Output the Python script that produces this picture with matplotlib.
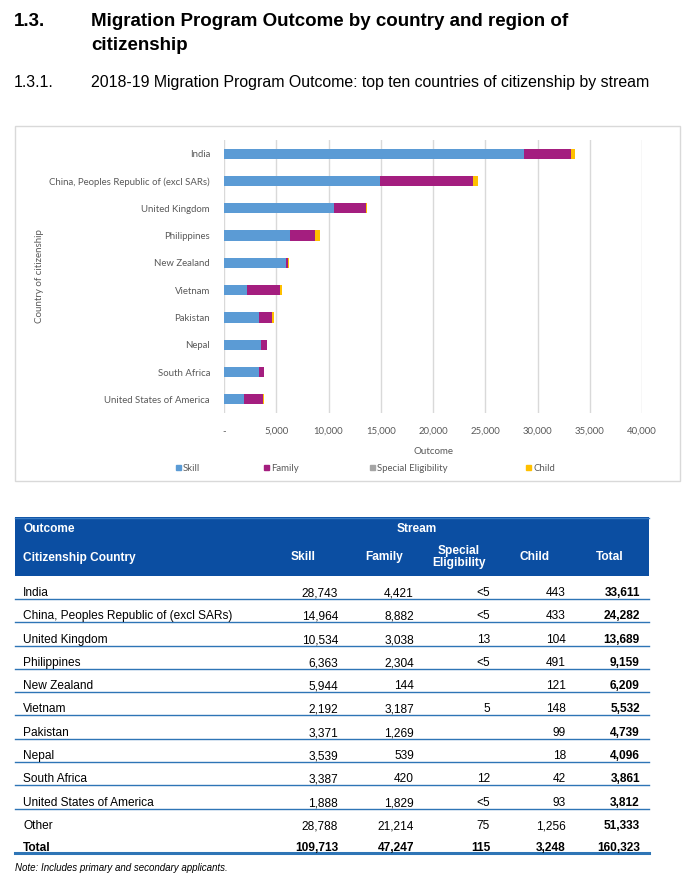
import matplotlib.pyplot as plt
from matplotlib.patches import Rectangle
from matplotlib.ticker import FuncFormatter

countries = ['India', 'China, Peoples Republic of (excl SARs)', 'United Kingdom',
             'Philippines', 'New Zealand', 'Vietnam', 'Pakistan', 'Nepal',
             'South Africa', 'United States of America']
skill = [28743, 14964, 10534, 6363, 5944, 2192, 3371, 3539, 3387, 1888]
family = [4421, 8882, 3038, 2304, 144, 3187, 1269, 539, 420, 1829]
# special eligibility as read from the totals (<5 in the table)
special = [4, 3, 13, 1, 0, 5, 0, 0, 12, 2]
special_shown = ['<5', '<5', '13', '<5', '', '5', '', '', '12', '<5']
child = [443, 433, 104, 491, 121, 148, 99, 18, 42, 93]
total = [33611, 24282, 13689, 9159, 6209, 5532, 4739, 4096, 3861, 3812]

other = ['28,788', '21,214', '75', '1,256', '51,333']
grand = ['109,713', '47,247', '115', '3,248', '160,323']

streams = ['Skill', 'Family', 'Special Eligibility', 'Child']
colors = ['#5B9BD5', '#A41E7F', '#A5A5A5', '#FFC000']
xticks = [0, 5000, 10000, 15000, 20000, 25000, 30000, 35000, 40000]

W, H = 693, 888
fig = plt.figure(figsize=(W / 100, H / 100), dpi=100)

# overlay in pixel coordinates for headings, frame and table
ov = fig.add_axes([0, 0, 1, 1])
ov.set_xlim(0, W)
ov.set_ylim(H, 0)
ov.axis('off')

hfont = 'Liberation Sans'
ov.text(14, 26, '1.3.', fontsize=13.5, fontweight='bold', family=hfont, va='baseline')
ov.text(91, 26, 'Migration Program Outcome by country and region of',
        fontsize=13.5, fontweight='bold', family=hfont, va='baseline')
ov.text(91, 50, 'citizenship', fontsize=13.5, fontweight='bold', family=hfont, va='baseline')
ov.text(14, 87, '1.3.1.', fontsize=11.4, family=hfont, va='baseline')
ov.text(91, 87, '2018-19 Migration Program Outcome: top ten countries of citizenship by stream',
        fontsize=11.4, family=hfont, va='baseline')

ov.add_patch(Rectangle((15, 126), 665, 355, fill=False, edgecolor='#D9D9D9', lw=1))

# chart
cfont = 'Lato'
ax = fig.add_axes([224 / W, 1 - 413 / H, (642 - 224) / W, 273 / H])
ypos = list(range(len(countries)))
left = [0] * len(countries)
for vals, name, c in zip([skill, family, special, child], streams, colors):
    ax.barh(ypos, vals, left=left, height=0.37, color=c, label=name, zorder=3)
    left = [a + b for a, b in zip(left, vals)]
ax.set_ylim(len(countries) - 0.5, -0.5)
ax.set_xlim(0, 40000)
ax.set_xticks(xticks)
ax.xaxis.set_major_formatter(FuncFormatter(lambda v, p: '-' if v == 0 else f'{int(v):,}'))
ax.set_yticks(ypos)
ax.set_yticklabels(countries)
ax.grid(axis='x', color='#D9D9D9', lw=1, zorder=0)
for s in ax.spines.values():
    s.set_visible(False)
ax.tick_params(length=0, labelsize=6.9, labelcolor='#595959', pad=10)
for lab in ax.get_xticklabels() + ax.get_yticklabels():
    lab.set_family(cfont)
ax.set_xlabel('Outcome', fontsize=7, color='#595959', family=cfont, labelpad=8)
ov.text(40, 276, 'Country of citizenship', rotation=90, fontsize=7, color='#595959',
        family=cfont, ha='center', va='center')

legx = [176, 264, 370, 526]
for x, name, c in zip(legx, streams, colors):
    ov.add_patch(Rectangle((x, 465), 5, 5, color=c))
    ov.text(x + 7, 468, name, fontsize=6.9, color='#595959', family=cfont, va='center')

# table
blue = '#0B4EA2'
line = '#2E75B6'
ov.add_patch(Rectangle((15, 517), 634, 59, color=blue, lw=0))
ov.plot([15, 649], [517.5, 517.5], color='#3A7CC4', lw=1)
tfs = 8.6
bo = 4  # baseline offset from row centre
ov.text(23, 528 + bo, 'Outcome', color='white', fontweight='bold', fontsize=tfs,
        family=hfont, va='baseline')
ov.text(417, 528 + bo, 'Stream', color='white', fontweight='bold', fontsize=tfs,
        family=hfont, va='baseline', ha='center')
ov.text(23, 557 + bo, 'Citizenship Country', color='white', fontweight='bold', fontsize=tfs,
        family=hfont, va='baseline')
heads = ['Skill', 'Family', 'Special\nEligibility', 'Child', 'Total']
hcx = [303, 384, 459, 535, 610]
for hx, h in zip(hcx, heads):
    ov.text(hx, 557, h, color='white', fontweight='bold', fontsize=tfs, family=hfont,
            va='center', ha='center', linespacing=0.95)

colx = [338, 414, 490, 566, 640]
rows = []
for i, cname in enumerate(countries):
    rows.append([cname, f'{skill[i]:,}', f'{family[i]:,}', special_shown[i],
                 f'{child[i]:,}', f'{total[i]:,}'])
rows.append(['Other'] + other)
pitch = 23.3
for i, r in enumerate(rows):
    y = round(592 + i * pitch)
    ov.text(23, y + bo, r[0], fontsize=tfs, family=hfont, va='baseline')
    for j, (cx, v) in enumerate(zip(colx, r[1:])):
        ov.text(cx, y + bo, v, fontsize=tfs, family=hfont, va='baseline', ha='right',
                fontweight='bold' if j == 4 else 'normal')
    if i < len(rows) - 1:
        ov.plot([15, 649], [y + 6.5, y + 6.5], color=line, lw=1)
yt = round(592 + len(rows) * pitch - 1.5)
ov.text(23, yt + bo, 'Total', fontsize=tfs, family=hfont, va='baseline', fontweight='bold')
for cx, v in zip(colx, grand):
    ov.text(cx, yt + bo, v, fontsize=tfs, family=hfont, va='baseline', ha='right',
            fontweight='bold')
ov.plot([15, 649], [853, 853], color=line, lw=2.2)
ov.text(15, 871, 'Note: Includes primary and secondary applicants.', fontsize=7,
        family=hfont, style='italic', va='baseline')

fig.savefig('out.png', dpi=100)
